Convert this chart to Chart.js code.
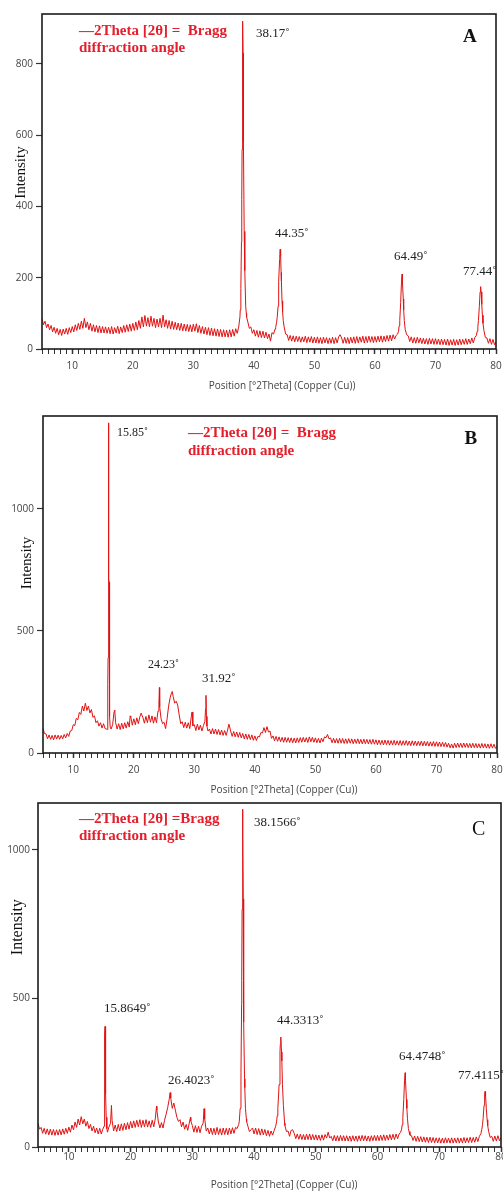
<!DOCTYPE html>
<html lang="en">
<head>
  <meta charset="UTF-8" />
  <title>XRD patterns A, B, C</title>
  <script src="https://cdn.jsdelivr.net/npm/chart.js"></script>
  <style>
    body { margin: 0; background: #fff; }
    canvas.panel { position: absolute; left: 0; }
  </style>
</head>
<body>

  <canvas id="chartA" class="panel" style="top:0px" width="503" height="396"></canvas>
  <canvas id="chartB" class="panel" style="top:400px" width="503" height="396"></canvas>
  <canvas id="chartC" class="panel" style="top:798px" width="503" height="393"></canvas>

  <script>
    // step scan: 5 to 80 deg 2theta, 0.25 deg per count
    const START = 5;
    const STEP = 0.25;

    // sample A
    const countsA = [
      85,68,78,60,70,54,66,48,61,44,58,40,55,38,56,42,58,41,60,46,
      63,48,68,52,72,55,78,58,86,60,76,54,72,50,68,48,66,46,65,45,
      63,45,62,44,61,43,63,42,60,45,64,43,62,46,66,47,68,49,70,50,
      72,52,76,54,80,58,90,62,94,64,88,62,92,64,86,60,84,62,86,60,
      95,62,82,58,80,56,78,55,75,54,73,52,72,51,70,50,69,49,68,48,
      70,50,71,46,66,44,63,42,61,40,60,38,59,37,57,36,56,35,55,34,
      54,34,53,33,54,34,55,36,57,44,62,110,420,740,220,100,76,58,62,44,
      54,36,52,33,51,32,50,31,47,29,42,22,46,42,56,75,120,250,215,105,
      62,42,40,24,38,22,37,20,36,21,35,19,34,20,36,18,34,19,35,17,
      33,17,34,16,32,15,33,17,32,15,31,16,33,15,32,17,34,40,31,16,
      33,16,32,15,33,17,34,16,35,17,34,19,36,17,35,18,36,19,35,18,
      35,19,36,20,37,19,36,21,38,22,39,23,40,28,38,42,65,130,208,110,
      55,40,37,21,34,17,32,16,33,17,31,15,30,14,29,13,30,14,29,13,
      29,13,28,12,28,12,27,11,28,10,26,11,27,10,26,11,28,12,27,13,
      29,13,28,15,31,17,32,38,62,120,168,95,52,32,31,16,29,13,27,12,
      20
    ];
    const peaksA = [
      [37.7,90],[37.85,170],[37.95,300],[38.05,560],[38.12,820],[38.17,920],[38.22,830],
      [38.3,580],[38.4,330],[38.65,120],[38.8,90],
      [43.6,60],[43.85,88],[44.05,140],[44.15,190],[44.28,265],[44.35,280],[44.42,262],
      [44.55,190],[44.65,135],[44.85,80],
      [63.9,50],[64.1,80],[64.38,185],[64.49,210],[64.58,190],[64.68,140],[64.85,80],
      [76.9,50],[77.1,80],[77.37,160],[77.44,175],[77.55,160],[77.65,125],[77.85,72]
    ];
    const yTicksA = [0, 200, 400, 600, 800];

    // sample B
    const countsB = [
      100,80,78,58,74,56,72,54,74,57,73,56,72,58,76,62,80,68,90,92,
      116,112,142,136,166,158,192,172,204,174,192,164,178,146,152,124,132,110,124,102,
      120,100,98,390,240,98,116,170,124,98,120,96,122,99,124,102,128,106,148,114,
      140,116,144,120,148,160,146,122,150,124,156,126,152,122,148,124,172,250,141,120,
      126,100,140,192,226,248,232,204,212,196,156,120,128,104,126,102,124,100,150,112,
      116,92,118,94,114,90,112,130,150,90,98,78,100,78,98,76,96,74,94,72,
      92,72,94,116,90,68,88,66,86,64,84,62,80,58,78,56,76,55,74,52,
      70,51,68,66,84,82,104,84,108,86,90,60,70,50,68,48,66,46,64,44,
      64,44,63,43,62,42,61,41,62,43,63,44,64,45,63,43,66,46,64,44,
      62,42,60,41,61,46,66,62,76,58,62,42,60,41,59,40,60,40,59,39,
      58,39,59,40,58,38,57,39,58,38,56,37,57,38,56,37,55,36,56,36,
      54,34,53,34,52,33,53,34,52,32,51,33,52,32,50,32,51,31,50,32,
      51,31,49,30,50,31,49,30,48,30,49,29,48,29,47,28,46,28,47,27,
      46,27,45,26,44,26,43,24,40,21,37,20,40,22,41,23,40,22,41,23,
      40,22,39,21,40,22,39,21,38,20,39,21,38,20,37,19,38,20,36,19,
      28
    ];
    const peaksB = [
      [15.62,96],[15.68,140],[15.72,280],[15.78,500],[15.83,1200],[15.85,1352],[15.87,1100],
      [15.9,712],[15.93,700],[15.97,380],[16.02,150],[16.1,106],
      [16.85,176],[19.4,152],[21.2,162],[24.15,200],[24.23,268],[24.3,190],[26.35,252],
      [29.62,168],[31.85,180],[31.92,236],[32.08,110],[35.7,118]
    ];
    const yTicksB = [0, 500, 1000];

    // sample C
    const countsC = [
      80,60,66,46,63,43,61,41,60,40,59,39,58,40,59,41,61,43,63,46,
      67,50,74,58,84,66,94,74,102,78,94,70,86,62,76,54,70,48,64,44,
      63,44,60,150,180,50,68,80,90,54,74,52,76,54,78,56,80,58,82,60,
      86,64,88,66,90,68,92,66,90,68,92,67,88,66,90,68,95,125,84,64,
      82,64,90,110,132,160,165,130,148,124,100,86,92,68,84,60,76,56,80,88,
      72,50,72,49,70,48,70,80,95,54,64,44,64,42,63,41,66,42,62,40,
      64,42,63,41,64,44,65,46,66,62,75,130,560,835,200,95,70,52,58,64,
      44,64,42,62,40,61,41,59,38,56,36,54,40,55,70,105,185,345,290,140,
      72,52,54,36,56,58,46,28,44,26,43,25,42,24,43,25,44,24,42,24,
      41,23,40,22,41,23,42,30,50,30,36,21,39,20,38,20,39,21,38,20,
      38,20,37,19,38,20,37,19,38,21,39,21,38,20,37,19,38,21,39,21,
      39,21,40,22,41,22,40,23,42,24,43,25,44,28,44,50,75,160,245,130,
      62,40,38,22,37,19,36,18,35,17,34,16,33,15,33,15,32,14,31,14,
      31,13,30,13,31,14,30,13,31,13,30,14,31,13,30,14,32,14,31,15,
      33,15,32,16,34,18,36,45,75,140,172,92,52,32,36,19,37,20,38,21,
      32
    ];
    const peaksC = [
      [15.7,70],[15.78,200],[15.84,380],[15.86,406],[15.89,300],[15.93,282],[15.97,240],
      [16.05,100],[16.15,62],
      [16.9,140],[24.2,137],[26.4,183],[29.7,100],[31.9,129],
      [37.6,85],[37.88,250],[37.98,480],[38.06,800],[38.12,1060],[38.16,1137],[38.2,1050],
      [38.27,750],[38.36,420],[38.46,230],[38.6,130],[38.8,85],
      [43.65,85],[43.85,130],[44.05,210],[44.2,320],[44.33,370],[44.45,320],[44.6,210],[44.95,80],
      [63.9,60],[64.1,100],[64.38,225],[64.47,250],[64.56,225],[64.68,160],[64.85,95],[65.1,52],
      [76.9,60],[77.1,95],[77.35,175],[77.41,187],[77.62,130],[77.85,72]
    ];
    const yTicksC = [0, 500, 1000];

    const X_TITLE = 'Position [°2Theta] (Copper (Cu))';
    const Y_TITLE = 'Intensity';

    const LINE = '#e01212';
    const RED = '#e41e2b';
    const INK = '#222';
    const AXIS = '#333';
    const SERIF = '"Liberation Serif", "Times New Roman", serif';
    const SANS = '"Open Sans", "Liberation Sans", sans-serif';

    function scan(counts, peaks) {
      const pts = counts.map((c, i) => ({ x: START + i * STEP, y: c }));
      peaks.forEach(p => pts.push({ x: p[0], y: p[1] }));
      return pts.sort((a, b) => a.x - b.x);
    }

    // frame round the plot + free text placed in data units
    const textPlugin = {
      id: 'xrdText',
      afterDraw(chart, args, opts) {
        const { ctx, chartArea: a, scales: { x, y } } = chart;
        ctx.save();
        ctx.strokeStyle = '#1b1b1b';
        ctx.lineWidth = 1.6;
        ctx.strokeRect(a.left, a.top, a.right - a.left, a.bottom - a.top);
        (opts.items || []).forEach(it => {
          ctx.save();
          ctx.font = it.f;
          ctx.fillStyle = it.c || INK;
          ctx.textBaseline = 'middle';
          ctx.textAlign = it.align || 'left';
          ctx.translate(x.getPixelForValue(it.x), y.getPixelForValue(it.y));
          if (it.rot) ctx.rotate(it.rot);
          ctx.fillText(it.t, 0, 0);
          ctx.restore();
        });
        ctx.restore();
      }
    };

    function drawPanel(id, p) {
      new Chart(document.getElementById(id), {
        type: 'line',
        data: {
          datasets: [{
            data: scan(p.counts, p.peaks),
            borderColor: LINE,
            borderWidth: 1,
            pointRadius: 0,
            tension: 0
          }]
        },
        options: {
          responsive: false,
          animation: false,
          events: [],
          layout: { padding: { top: p.top, right: p.right, bottom: 0, left: 0 } },
          plugins: {
            legend: { display: false },
            tooltip: { enabled: false },
            xrdText: { items: p.items }
          },
          scales: {
            x: {
              type: 'linear',
              min: 5,
              max: 80,
              afterFit: s => { s.height = p.xh; s.paddingLeft = 0; s.paddingRight = 0; },
              border: { display: false },
              grid: {
                drawOnChartArea: false,
                tickLength: 5,
                tickColor: AXIS,
                tickWidth: c => (c.tick && c.tick.value % 10 === 0) ? 1.5 : 1
              },
              ticks: {
                stepSize: 1,
                autoSkip: false,
                maxRotation: 0,
                padding: p.xpad,
                color: '#444',
                font: { family: SANS, size: 10 },
                callback: v => (v % 10 === 0 ? v : '')
              }
            },
            y: {
              min: 0,
              max: p.ymax,
              afterFit: s => { s.width = p.yw; s.paddingTop = 0; s.paddingBottom = 0; },
              afterBuildTicks: s => { s.ticks = p.yticks.map(v => ({ value: v })); },
              border: { display: false },
              grid: { drawOnChartArea: false, tickLength: 6, tickColor: AXIS, tickWidth: 1.2 },
              ticks: {
                padding: p.ypad,
                color: '#444',
                font: { family: SANS, size: 10 },
                callback: v => String(v)
              }
            }
          }
        },
        plugins: [textPlugin]
      });
    }

    drawPanel('chartA', {
      counts: countsA, peaks: peaksA, yticks: yTicksA,
      top: 14, right: 7, xh: 47, yw: 42, ymax: 940, xpad: 6, ypad: 3,
      items: [
        { t: '—2Theta [2θ] =  Bragg', x: 11.11, y: 892, f: 'bold 15px ' + SERIF, c: RED },
        { t: 'diffraction angle', x: 11.11, y: 845, f: 'bold 15px ' + SERIF, c: RED },
        { t: 'A', x: 74.55, y: 875, f: 'bold 19px ' + SERIF, c: '#111' },
        { t: '38.17˚', x: 40.35, y: 884, f: '13px ' + SERIF },
        { t: '44.35˚', x: 43.49, y: 323, f: '13px ' + SERIF },
        { t: '64.49˚', x: 63.15, y: 258, f: '13px ' + SERIF },
        { t: '77.44˚', x: 74.55, y: 216, f: '13px ' + SERIF },
        { t: Y_TITLE, x: 1.53, y: 495, f: '15px ' + SERIF, c: '#111', align: 'center', rot: -Math.PI / 2 },
        { t: X_TITLE, x: 44.65, y: -104, f: '10px ' + SANS, c: '#444', align: 'center' }
      ]
    });

    drawPanel('chartB', {
      counts: countsB, peaks: peaksB, yticks: yTicksB,
      top: 16, right: 6, xh: 43, yw: 43, ymax: 1380, xpad: 6, ypad: 3,
      items: [
        { t: '15.85˚', x: 17.22, y: 1310, f: '12px ' + SERIF },
        { t: '—2Theta [2θ] =  Bragg', x: 28.95, y: 1310, f: 'bold 15px ' + SERIF, c: RED },
        { t: 'diffraction angle', x: 28.95, y: 1237, f: 'bold 15px ' + SERIF, c: RED },
        { t: 'B', x: 74.65, y: 1286, f: 'bold 19px ' + SERIF, c: '#111' },
        { t: '24.23˚', x: 22.35, y: 360, f: '12px ' + SERIF },
        { t: '31.92˚', x: 31.27, y: 303, f: '13px ' + SERIF },
        { t: Y_TITLE, x: 2.44, y: 778, f: '15px ' + SERIF, c: '#111', align: 'center', rot: -Math.PI / 2 },
        { t: X_TITLE, x: 44.81, y: -151, f: '10px ' + SANS, c: '#444', align: 'center' }
      ]
    });

    drawPanel('chartC', {
      counts: countsC, peaks: peaksC, yticks: yTicksC,
      top: 5, right: 2, xh: 44, yw: 38, ymax: 1158, xpad: -1, ypad: 2,
      items: [
        { t: '—2Theta [2θ] =Bragg', x: 11.64, y: 1104, f: 'bold 15px ' + SERIF, c: RED },
        { t: 'diffraction angle', x: 11.64, y: 1047, f: 'bold 15px ' + SERIF, c: RED },
        { t: '38.1566˚', x: 39.99, y: 1091, f: '13px ' + SERIF },
        { t: 'C', x: 75.3, y: 1067, f: '20px ' + SERIF, c: '#111' },
        { t: '15.8649˚', x: 15.69, y: 467, f: '13px ' + SERIF },
        { t: '26.4023˚', x: 26.06, y: 225, f: '13px ' + SERIF },
        { t: '44.3313˚', x: 43.72, y: 427, f: '13px ' + SERIF },
        { t: '64.4748˚', x: 63.48, y: 306, f: '13px ' + SERIF },
        { t: '77.4115˚', x: 73.04, y: 242, f: '13px ' + SERIF },
        { t: Y_TITLE, x: 1.76, y: 740, f: '16px ' + SERIF, c: '#111', align: 'center', rot: -Math.PI / 2 },
        { t: X_TITLE, x: 44.85, y: -129, f: '10px ' + SANS, c: '#444', align: 'center' }
      ]
    });
  </script>
</body>
</html>
